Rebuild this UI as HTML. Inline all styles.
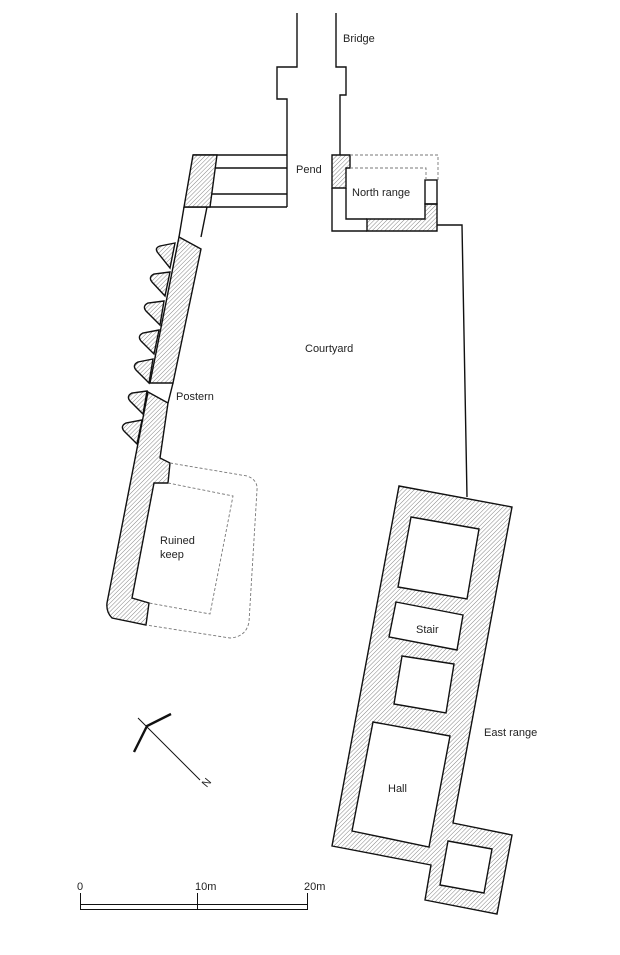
<!DOCTYPE html>
<html><head><meta charset="utf-8"><style>
html,body{margin:0;padding:0;background:#fff;}
svg{display:block;}
text{font-family:"Liberation Sans",Arial,sans-serif;font-size:11px;fill:#222;}
</style></head><body>
<svg width="620" height="955" viewBox="0 0 620 955" xmlns="http://www.w3.org/2000/svg">
<defs>
<pattern id="h" patternUnits="userSpaceOnUse" width="3" height="3" patternTransform="rotate(45)">
<rect width="3" height="3" fill="#fff"/>
<line x1="0" y1="0" x2="0" y2="3" stroke="#777" stroke-width="0.9"/>
</pattern>
</defs>
<g fill="none" stroke="#111" stroke-width="1.4" stroke-linejoin="miter">
<!-- bridge -->
<polyline points="297,13 297,67 277,67 277,99 287,99 287,207"/>
<polyline points="336,13 336,67 346,67 346,95 340,95 340,155"/>
<!-- pend -->
<line x1="193" y1="155" x2="287" y2="155"/>
<line x1="210" y1="168" x2="287" y2="168"/>
<line x1="207" y1="194" x2="287" y2="194"/>
<line x1="184" y1="207" x2="287" y2="207"/>
<polygon points="193,155 217,155 210,207 184,207" fill="url(#h)"/>
<!-- left wall white portions -->
<line x1="184" y1="207" x2="179" y2="237"/>
<line x1="207" y1="207" x2="201" y2="237"/>
<!-- buttresses -->
<g fill="url(#h)">
<path d="M175,243 L160,246 Q154,248 158,253 L170,268 Z"/>
<path d="M170,272 L154,274 Q148,277 152,282 L165,296 Z"/>
<path d="M164,301 L148,303 Q142,306 146,311 L160,325 Z"/>
<path d="M159,330 L143,333 Q137,336 141,341 L154,354 Z"/>
<path d="M153,359 L138,362 Q132,365 136,370 L149,383 Z"/>
<path d="M147,391 L132,393 Q126,396 130,401 L143,414 Z"/>
<path d="M142,420 L126,423 Q120,426 124,431 L137,444 Z"/>
</g>
<!-- wall hatched upper -->
<polygon points="179,237 201,249 173,383 150,383" fill="url(#h)"/>
<!-- postern gap -->
<line x1="173" y1="383" x2="168" y2="403"/>
<!-- wall lower with keep -->
<path d="M148,392 L168,403 L160,458 L170,463 L168,483 L154,483 L132,598 L149,603 L146,625 L112,618 Q106,612 107,603 Z" fill="url(#h)"/>
<!-- North range -->
<polygon points="332,155 350,155 350,168 346,168 346,188 332,188" fill="url(#h)"/>
<polyline points="332,188 332,231 367,231"/>
<polygon points="367,219 425,219 425,204 437,204 437,231 367,231" fill="url(#h)"/>
<polyline points="346,188 346,219 367,219"/>
<rect x="425" y="180" width="12" height="24"/>
<polyline points="437,225 462,225 467,497"/>
<!-- East range -->
<path d="M399,486 L512,507 L453,823 L512,835 L497,914 L425,900 L431,865 L332,846 Z" fill="url(#h)"/>
<polygon points="411,517 479,529 467,599 398,587" fill="#fff"/>
<polygon points="396,602 463,615 457,650 389,637" fill="#fff"/>
<polygon points="402,656 454,664 446,713 394,704" fill="#fff"/>
<polygon points="373,722 450,736 429,847 352,831" fill="#fff"/>
<polygon points="448,841 492,849 484,893 440,885" fill="#fff"/>
</g>
<!-- dashed -->
<g fill="none" stroke="#777" stroke-width="0.9" stroke-dasharray="3,2">
<polyline points="350,155 438,155 438,180"/>
<polyline points="350,168 426,168 426,180"/>
<path d="M170,463 L247,476 Q258,480 257,490 L249,622 Q246,637 230,638 L146,625"/>
<polyline points="168,483 233,496 210,614 149,603"/>
</g>
<!-- compass -->
<g stroke="#111" fill="none">
<polyline points="171,714 147,726 134,752" stroke-width="2.4"/>
<line x1="138" y1="718" x2="200" y2="780" stroke-width="1"/>
</g>
<text x="203" y="786" transform="rotate(-50 207 783)" font-size="9">N</text>
<!-- scale -->
<g stroke="#111" fill="none" stroke-width="1">
<rect x="80.5" y="904.5" width="227" height="5"/>
<line x1="80.5" y1="893" x2="80.5" y2="910"/>
<line x1="197.5" y1="893" x2="197.5" y2="910"/>
<line x1="307.5" y1="893" x2="307.5" y2="910"/>
</g>
<text x="77" y="890">0</text>
<text x="195" y="890">10m</text>
<text x="304" y="890">20m</text>
<!-- labels -->
<text x="343" y="42">Bridge</text>
<text x="296" y="173">Pend</text>
<text x="352" y="196">North range</text>
<text x="305" y="352">Courtyard</text>
<text x="176" y="400">Postern</text>
<text x="160" y="544">Ruined</text>
<text x="160" y="558">keep</text>
<text x="416" y="633">Stair</text>
<text x="484" y="736">East range</text>
<text x="388" y="792">Hall</text>
</svg>
</body></html>
